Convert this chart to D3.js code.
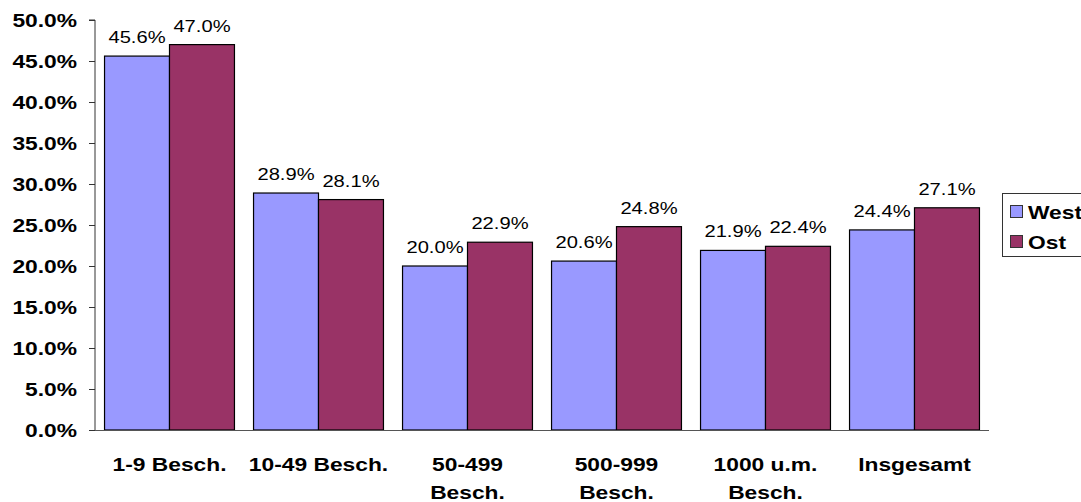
<!DOCTYPE html>
<html><head><meta charset="utf-8">
<script src="https://cdn.jsdelivr.net/npm/d3@7"></script>
<style>body{margin:0;background:#fff}svg{display:block}text{font-family:"Liberation Sans",Arial,sans-serif}</style>
</head><body><svg id="c" width="1081" height="502"></svg>
<script>
const categories = [["1-9 Besch."],["10-49 Besch."],["50-499","Besch."],["500-999","Besch."],["1000 u.m.","Besch."],["Insgesamt"]];
const seriesNames = ["West","Ost"];
const west = [45.6,28.9,20.0,20.6,21.9,24.4];
const ost = [47.0,28.1,22.9,24.8,22.4,27.1];
const yTicks = [0,5,10,15,20,25,30,35,40,45,50];
const colors = ["#9999FF","#993366"];

const SX = 1.2;
const svg = d3.select("#c");
const mL = 95, mR = 989, mT = 20, mB = 430;
const x0 = d3.scaleBand().domain(d3.range(categories.length)).range([mL,mR]).paddingInner(0.128).paddingOuter(0.064);
const x1 = d3.scaleBand().domain([0,1]).range([0,x0.bandwidth()]);
const y = d3.scaleLinear().domain([0,50]).range([mB,mT]);

function label(x, yy, str, size, bold, anchor){
  return svg.append("text").attr("transform",`translate(${x},${yy}) scale(${SX},1)`)
    .attr("text-anchor",anchor||"middle").attr("font-size",size).attr("font-weight",bold?"bold":"normal")
    .attr("fill","#000").text(str);
}

const data = [west, ost];
categories.forEach((c,i)=>{
  data.forEach((s,j)=>{
    const xx = x0(i)+x1(j);
    svg.append("rect").attr("x",xx).attr("y",y(s[i])).attr("width",x1.bandwidth()).attr("height",y(0)-y(s[i]))
      .attr("fill",colors[j]).attr("stroke","#000").attr("stroke-width",1.2);
    label(xx+x1.bandwidth()/2, y(s[i])-13, s[i].toFixed(1)+"%", 16.8, false);
  });
});

const ya = svg.append("g").attr("transform",`translate(${mL},0)`)
  .call(d3.axisLeft(y).tickValues(yTicks).tickSize(6).tickFormat(""));
ya.selectAll("line").attr("stroke","#333");
ya.select(".domain").attr("stroke","#333").attr("d",`M-6,${mT}H0V${mB}`);
yTicks.forEach(t=>label(77, y(t)+7, t.toFixed(1)+"%", 19, true, "end"));

svg.append("line").attr("x1",mL).attr("x2",mR).attr("y1",mB+0.5).attr("y2",mB+0.5).attr("stroke","#555").attr("stroke-width",1.2);

categories.forEach((c,i)=>{
  c.forEach((line,k)=>label(x0(i)+x0.bandwidth()/2, 471+k*28, line, 19, true));
});

svg.append("rect").attr("x",1002.5).attr("y",193.5).attr("width",90).attr("height",63).attr("fill","#fff").attr("stroke","#333").attr("stroke-width",1);
seriesNames.forEach((n,j)=>{
  const yy = 212 + j*30;
  svg.append("rect").attr("x",1010.5).attr("y",yy-6.5).attr("width",12).attr("height",12).attr("fill",colors[j]).attr("stroke","#333");
  label(1028, yy+7, n, 19, true, "start");
});
</script></body></html>
